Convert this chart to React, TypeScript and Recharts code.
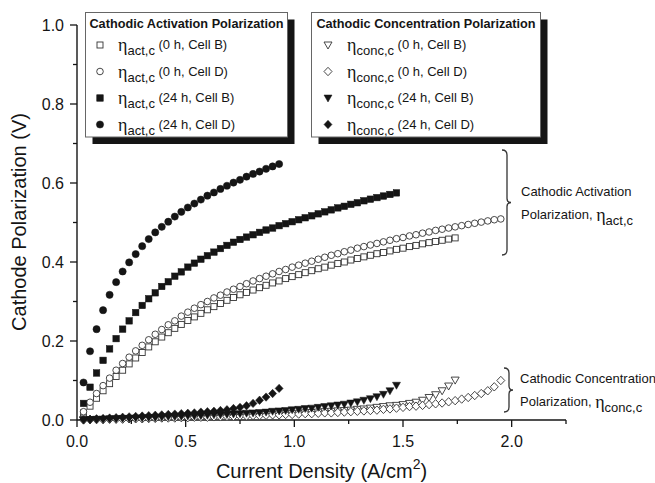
import React from 'react';
import { ScatterChart, Scatter, XAxis, YAxis, Label } from 'recharts';

// current density steps (A/cm2), shared by all series
const currentDensity = [
  0.03, 0.06, 0.09, 0.12, 0.15, 0.18, 0.21, 0.24, 0.27, 0.3,
  0.33, 0.36, 0.39, 0.42, 0.45, 0.48, 0.51, 0.54, 0.57, 0.6,
  0.63, 0.66, 0.69, 0.72, 0.75, 0.78, 0.81, 0.84, 0.87, 0.9,
  0.93, 0.96, 0.99, 1.02, 1.05, 1.08, 1.11, 1.14, 1.17, 1.2,
  1.23, 1.26, 1.29, 1.32, 1.35, 1.38, 1.41, 1.44, 1.47, 1.5,
  1.53, 1.56, 1.59, 1.62, 1.65, 1.68, 1.71, 1.74, 1.77, 1.8,
  1.83, 1.86, 1.89, 1.92, 1.95,
];

// activation polarization (V)
const actB0 = [
  0.018, 0.035, 0.055, 0.074, 0.092, 0.11, 0.126, 0.142, 0.157, 0.171,
  0.185, 0.198, 0.21, 0.221, 0.232, 0.242, 0.252, 0.261, 0.27, 0.279,
  0.287, 0.295, 0.303, 0.31, 0.317, 0.323, 0.329, 0.335, 0.341, 0.347,
  0.352, 0.358, 0.363, 0.368, 0.373, 0.378, 0.383, 0.387, 0.392, 0.396,
  0.4, 0.405, 0.409, 0.413, 0.417, 0.421, 0.424, 0.428, 0.432, 0.435,
  0.439, 0.442, 0.446, 0.449, 0.452, 0.455, 0.458, 0.461,
];
const actD0 = [
  0.021, 0.045, 0.067, 0.087, 0.106, 0.126, 0.143, 0.159, 0.175, 0.189,
  0.203, 0.217, 0.229, 0.241, 0.251, 0.263, 0.273, 0.283, 0.292, 0.3,
  0.309, 0.316, 0.324, 0.331, 0.338, 0.345, 0.352, 0.358, 0.364, 0.37,
  0.376, 0.381, 0.387, 0.392, 0.397, 0.402, 0.407, 0.412, 0.417, 0.421,
  0.426, 0.43, 0.435, 0.439, 0.443, 0.447, 0.451, 0.455, 0.459, 0.462,
  0.466, 0.469, 0.473, 0.476, 0.48, 0.483, 0.486, 0.489, 0.492, 0.495,
  0.498, 0.501, 0.504, 0.507, 0.509,
];
const actB24 = [
  0.042, 0.083, 0.119, 0.151, 0.18, 0.206, 0.23, 0.251, 0.272, 0.29,
  0.307, 0.322, 0.338, 0.35, 0.364, 0.375, 0.387, 0.397, 0.407, 0.416,
  0.425, 0.434, 0.442, 0.45, 0.457, 0.463, 0.469, 0.475, 0.481, 0.486,
  0.492, 0.497, 0.502, 0.507, 0.512, 0.517, 0.522, 0.527, 0.532, 0.537,
  0.541, 0.546, 0.55, 0.555, 0.559, 0.563, 0.567, 0.571, 0.575,
];
const actD24 = [
  0.095, 0.174, 0.23, 0.278, 0.317, 0.349, 0.376, 0.399, 0.42, 0.44,
  0.458, 0.475, 0.489, 0.502, 0.515, 0.527, 0.538, 0.548, 0.558, 0.568,
  0.576, 0.585, 0.593, 0.601, 0.608, 0.616, 0.623, 0.629, 0.636, 0.642,
  0.648,
];

// concentration polarization (V)
const concB0 = [
  0.0, 0.001, 0.001, 0.001, 0.002, 0.002, 0.003, 0.003, 0.003, 0.004,
  0.004, 0.005, 0.005, 0.006, 0.006, 0.007, 0.007, 0.008, 0.008, 0.009,
  0.009, 0.01, 0.01, 0.011, 0.011, 0.012, 0.012, 0.013, 0.014, 0.014,
  0.015, 0.016, 0.016, 0.017, 0.018, 0.019, 0.02, 0.021, 0.022, 0.023,
  0.024, 0.025, 0.027, 0.028, 0.03, 0.032, 0.034, 0.036, 0.037, 0.039,
  0.042, 0.045, 0.05, 0.057, 0.064, 0.074, 0.086, 0.101,
];
const concD0 = [
  0.0, 0.001, 0.001, 0.001, 0.002, 0.002, 0.002, 0.003, 0.003, 0.003,
  0.004, 0.004, 0.005, 0.005, 0.005, 0.006, 0.006, 0.007, 0.007, 0.007,
  0.008, 0.008, 0.009, 0.009, 0.01, 0.01, 0.011, 0.011, 0.012, 0.013,
  0.013, 0.014, 0.014, 0.015, 0.016, 0.016, 0.017, 0.018, 0.018, 0.019,
  0.02, 0.021, 0.022, 0.023, 0.024, 0.025, 0.027, 0.028, 0.03, 0.032,
  0.034, 0.035, 0.037, 0.039, 0.041, 0.043, 0.046, 0.049, 0.053, 0.057,
  0.062, 0.067, 0.074, 0.084, 0.1,
];
const concB24 = [
  0.001, 0.001, 0.002, 0.002, 0.003, 0.003, 0.004, 0.004, 0.005, 0.005,
  0.006, 0.006, 0.007, 0.008, 0.008, 0.009, 0.01, 0.01, 0.011, 0.012,
  0.013, 0.013, 0.014, 0.015, 0.016, 0.017, 0.018, 0.019, 0.02, 0.022,
  0.023, 0.024, 0.026, 0.027, 0.029, 0.03, 0.032, 0.034, 0.036, 0.038,
  0.04, 0.043, 0.046, 0.05, 0.054, 0.059, 0.065, 0.074, 0.088,
];
const concD24 = [
  0.001, 0.002, 0.003, 0.004, 0.005, 0.006, 0.007, 0.008, 0.009, 0.01,
  0.011, 0.012, 0.013, 0.014, 0.015, 0.016, 0.017, 0.018, 0.02, 0.021,
  0.022, 0.024, 0.026, 0.029, 0.032, 0.036, 0.042, 0.05, 0.058, 0.067,
  0.08,
];

const xTicks = [0, 0.25, 0.5, 0.75, 1, 1.25, 1.5, 1.75, 2, 2.25];
const yTicks = [0, 0.1, 0.2, 0.3, 0.4, 0.5, 0.6, 0.7, 0.8, 0.9, 1.0];
const conditions = ['(0 h, Cell B)', '(0 h, Cell D)', '(24 h, Cell B)', '(24 h, Cell D)'];

const FONT = '"Liberation Sans", Arial, Helvetica, sans-serif';
const INK = '#151515';

const toPoints = (ys: number[]) => ys.map((y, i) => ({ x: currentDensity[i], y }));

const actSeries = [
  { kind: 'osq', data: toPoints(actB0) },
  { kind: 'oci', data: toPoints(actD0) },
  { kind: 'sq', data: toPoints(actB24) },
  { kind: 'ci', data: toPoints(actD24) },
];
const concSeries = [
  { kind: 'otri', data: toPoints(concB0) },
  { kind: 'odia', data: toPoints(concD0) },
  { kind: 'tri', data: toPoints(concB24) },
  { kind: 'dia', data: toPoints(concD24) },
];

const Marker = ({ kind, cx, cy }: { kind: string; cx: number; cy: number }) => {
  const open = kind.startsWith('o');
  const fill = open ? '#fff' : INK;
  const stroke = open ? '#333' : INK;
  const sw = open ? 0.9 : 0.5;
  const k = open ? kind.slice(1) : kind;
  if (k === 'sq') {
    const s = open ? 6 : 6.5;
    return <rect x={cx - s / 2} y={cy - s / 2} width={s} height={s} fill={fill} stroke={stroke} strokeWidth={sw} />;
  }
  if (k === 'ci') {
    return <circle cx={cx} cy={cy} r={open ? 3.3 : 3.6} fill={fill} stroke={stroke} strokeWidth={sw} />;
  }
  if (k === 'tri') {
    const p = `${cx - 4},${cy - 3} ${cx + 4},${cy - 3} ${cx},${cy + 4}`;
    return <polygon points={p} fill={fill} stroke={stroke} strokeWidth={sw} />;
  }
  const p = `${cx},${cy - 4.2} ${cx + 4},${cy} ${cx},${cy + 4.2} ${cx - 4},${cy}`;
  return <polygon points={p} fill={fill} stroke={stroke} strokeWidth={sw} />;
};

const shapeOf = (kind: string) => (props: any) => <Marker kind={kind} cx={props.cx} cy={props.cy} />;

const isMajor = (v: number, step: number) => Math.abs(v / step - Math.round(v / step)) < 1e-6;

const XTick = (props: any) => {
  const { x, y, payload } = props;
  const major = isMajor(payload.value, 0.5);
  return (
    <g>
      <line x1={x} x2={x} y1={y} y2={y + (major ? 7 : 4)} stroke={INK} strokeWidth={1.3} />
      {major && (
        <text x={x} y={y + 27} textAnchor="middle" fontSize={16} fill={INK} fontFamily={FONT}>
          {payload.value.toFixed(1)}
        </text>
      )}
    </g>
  );
};

const YTick = (props: any) => {
  const { x, y, payload } = props;
  const major = isMajor(payload.value, 0.2);
  return (
    <g>
      <line x1={x - (major ? 7 : 4)} x2={x} y1={y} y2={y} stroke={INK} strokeWidth={1.3} />
      {major && (
        <text x={x - 13} y={y + 5.5} textAnchor="end" fontSize={16} fill={INK} fontFamily={FONT}>
          {payload.value.toFixed(1)}
        </text>
      )}
    </g>
  );
};

const YTitle = () => (
  <text
    x={0}
    y={0}
    transform="translate(26 222) rotate(-90)"
    textAnchor="middle"
    fontSize={20}
    fill={INK}
    fontFamily={FONT}
  >
    Cathode Polarization (V)
  </text>
);

const XTitle = () => (
  <text x={321.5} y={478} textAnchor="middle" fontSize={20} fill={INK} fontFamily={FONT}>
    Current Density (A/cm
    <tspan fontSize={14} dy={-9}>2</tspan>
    <tspan dy={9}>)</tspan>
  </text>
);

const Eta = ({ x, y, sub, rest, pre }: { x: number; y: number; sub: string; rest?: string; pre?: string }) => (
  <text x={x} y={y} fontFamily={FONT} fontSize={13} fill={INK}>
    {pre && <tspan>{pre}</tspan>}
    <tspan fontFamily='"Liberation Serif", serif' fontSize={18} dy={2}>η</tspan>
    <tspan dy={4}>{sub}</tspan>
    {rest && <tspan dy={-6}>{' ' + rest}</tspan>}
  </text>
);

const LegendBox = ({ x, w, title, sub, kinds, symX, textX }: any) => (
  <g>
    <rect x={x + 7} y={19.5} width={w} height={124.5} fill={INK} />
    <rect x={x} y={12.5} width={w} height={124.5} fill="#fff" stroke="#666" strokeWidth={1} />
    <text x={x + w / 2} y={27.5} textAnchor="middle" fontSize={12.7} fontWeight="bold" fill={INK} fontFamily={FONT}>
      {title}
    </text>
    {kinds.map((k: string, i: number) => (
      <g key={k}>
        <Marker kind={k} cx={symX} cy={45 + i * 26.5} />
        <Eta x={textX} y={49 + i * 26.5} sub={sub} rest={conditions[i]} />
      </g>
    ))}
  </g>
);

const brace = (x: number, top: number, bot: number) => {
  const mid = (top + bot) / 2;
  return `M ${x - 5} ${top} Q ${x} ${top} ${x} ${top + 5} L ${x} ${mid - 4} Q ${x} ${mid} ${x + 4} ${mid} Q ${x} ${mid} ${x} ${mid + 4} L ${x} ${bot - 5} Q ${x} ${bot} ${x - 5} ${bot}`;
};

const Overlay = () => (
  <svg width={655} height={483} style={{ position: 'absolute', left: 0, top: 0, pointerEvents: 'none' }}>
    <LegendBox
      x={85.5}
      w={202}
      title="Cathodic Activation Polarization"
      sub="act,c"
      kinds={actSeries.map((s) => s.kind)}
      symX={100}
      textX={118}
    />
    <LegendBox
      x={311.5}
      w={229}
      title="Cathodic Concentration Polarization"
      sub="conc,c"
      kinds={concSeries.map((s) => s.kind)}
      symX={328}
      textX={347}
    />
    <path d={brace(507, 150, 255)} fill="none" stroke="#333" strokeWidth={1.3} />
    <text x={521} y={196} fontSize={13} fill={INK} fontFamily={FONT}>Cathodic Activation</text>
    <Eta x={521} y={219} pre="Polarization, " sub="act,c" />
    <path d={brace(509, 368, 412)} fill="none" stroke="#333" strokeWidth={1.3} />
    <text x={520} y={383} fontSize={13} fill={INK} fontFamily={FONT}>Cathodic Concentration</text>
    <Eta x={520} y={406} pre="Polarization, " sub="conc,c" />
  </svg>
);

export default function App() {
  return (
    <div style={{ position: 'absolute', left: 0, top: 0, width: 655, height: 483, background: '#fff' }}>
      <ScatterChart width={655} height={483} margin={{ top: 25, right: 89, bottom: 0, left: 0 }}>
        <XAxis
          type="number"
          dataKey="x"
          domain={[0, 2.25]}
          ticks={xTicks}
          interval={0}
          height={63}
          tickSize={0}
          tickMargin={0}
          tickLine={false}
          tick={<XTick />}
          stroke={INK}
          strokeWidth={1.4}
        >
          <Label content={<XTitle />} />
        </XAxis>
        <YAxis
          type="number"
          dataKey="y"
          domain={[0, 1]}
          ticks={yTicks}
          interval={0}
          width={77}
          tickSize={0}
          tickMargin={0}
          tickLine={false}
          tick={<YTick />}
          stroke={INK}
          strokeWidth={1.4}
        >
          <Label content={<YTitle />} />
        </YAxis>
        {concSeries.map((s) => (
          <Scatter key={s.kind} data={s.data} shape={shapeOf(s.kind)} isAnimationActive={false} />
        ))}
        {actSeries.map((s) => (
          <Scatter key={s.kind} data={s.data} shape={shapeOf(s.kind)} isAnimationActive={false} />
        ))}
      </ScatterChart>
      <Overlay />
    </div>
  );
}
